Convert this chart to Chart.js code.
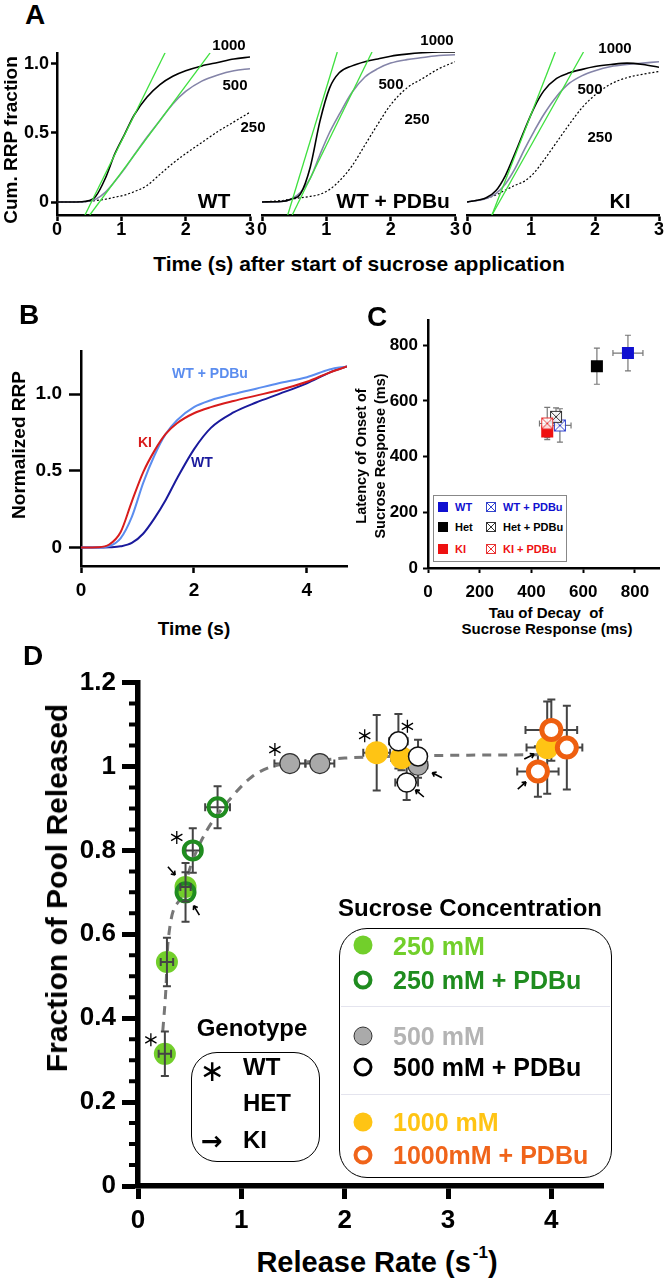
<!DOCTYPE html>
<html>
<head>
<meta charset="utf-8">
<script src="https://cdn.jsdelivr.net/npm/chart.js@4.4.1/dist/chart.umd.min.js"></script>
<style>
  body { margin: 0; background: #fff; }
  #page { position: relative; width: 668px; height: 1280px; overflow: hidden;
    font-family: 'Liberation Sans', Arial, Helvetica, sans-serif; font-weight: bold; color: #000; }
  canvas { position: absolute; }
  .t { position: absolute; white-space: nowrap; line-height: 1; transform: translate(-50%, -50%); }
  .rot { transform: translate(-50%, -50%) rotate(-90deg); text-align: center; }
  .lt { position: absolute; white-space: nowrap; line-height: 1; transform: translateY(-50%); }
  .box { position: absolute; box-sizing: border-box; }
  .dot { position: absolute; box-sizing: border-box; border-radius: 50%; transform: translate(-50%, -50%); }
  .sq { position: absolute; width: 10px; height: 10px; transform: translate(-50%, -50%); }
</style>
</head>
<body>
<div id="page">
  <canvas id="a1"></canvas>
  <canvas id="a2"></canvas>
  <canvas id="a3"></canvas>
  <canvas id="b"></canvas>
  <canvas id="c"></canvas>
  <canvas id="d"></canvas>

  <!-- panel A -->
  <div class="t" style="left:35px;top:15px;font-size:28px">A</div>
  <div class="t rot" style="left:10px;top:140px;font-size:19px">Cum. RRP fraction</div>
  <div class="t" style="left:359px;top:263px;font-size:21px">Time (s) after start of sucrose application</div>
  <div class="t" style="left:229px;top:44px;font-size:15px">1000</div>
  <div class="t" style="left:235px;top:84px;font-size:15px">500</div>
  <div class="t" style="left:253px;top:126px;font-size:15px">250</div>
  <div class="t" style="left:437px;top:39px;font-size:15px">1000</div>
  <div class="t" style="left:391px;top:83px;font-size:15px">500</div>
  <div class="t" style="left:417px;top:118px;font-size:15px">250</div>
  <div class="t" style="left:615px;top:47px;font-size:15px">1000</div>
  <div class="t" style="left:590px;top:88px;font-size:15px">500</div>
  <div class="t" style="left:600px;top:136px;font-size:15px">250</div>
  <div class="t" style="left:214px;top:200px;font-size:21px">WT</div>
  <div class="t" style="left:393px;top:200px;font-size:21px">WT + PDBu</div>
  <div class="t" style="left:620px;top:200px;font-size:21px">KI</div>

  <!-- panel B -->
  <div class="t" style="left:29px;top:315px;font-size:28px">B</div>
  <div class="t rot" style="left:18px;top:445px;font-size:19px">Normalized RRP</div>
  <div class="t" style="left:194px;top:628px;font-size:19px">Time (s)</div>
  <div class="t" style="left:210px;top:373px;font-size:14px;color:#5b8def">WT + PDBu</div>
  <div class="t" style="left:145px;top:442px;font-size:14px;color:#d81c1c">KI</div>
  <div class="t" style="left:202px;top:462px;font-size:14px;color:#1a1a9c">WT</div>

  <!-- panel C -->
  <div class="t" style="left:377px;top:317px;font-size:28px">C</div>
  <div class="t rot" style="left:371px;top:456px;font-size:14.5px;line-height:1.3">Latency of Onset of<br>Sucrose Response (ms)</div>
  <div class="t" style="left:546px;top:612px;font-size:15px">Tau of Decay&nbsp; of</div>
  <div class="t" style="left:547px;top:628px;font-size:15px">Sucrose Response (ms)</div>
  <div class="box" style="left:433px;top:495px;width:134px;height:67px;border:1.5px solid #888;background:#fff"></div>
  <div class="sq" style="left:443px;top:507px;background:#1010d0"></div>
  <div class="sq" style="left:443px;top:527px;background:#000"></div>
  <div class="sq" style="left:443px;top:549px;background:#ee1111"></div>
  <svg class="sq" style="left:491px;top:507px" viewBox="0 0 10 10"><rect x="0.5" y="0.5" width="9" height="9" fill="none" stroke="#3344cc"/><path d="M1 1L9 9M9 1L1 9" stroke="#3344cc"/></svg>
  <svg class="sq" style="left:491px;top:527px" viewBox="0 0 10 10"><rect x="0.5" y="0.5" width="9" height="9" fill="none" stroke="#333"/><path d="M1 1L9 9M9 1L1 9" stroke="#333"/></svg>
  <svg class="sq" style="left:491px;top:549px" viewBox="0 0 10 10"><rect x="0.5" y="0.5" width="9" height="9" fill="none" stroke="#e83333"/><path d="M1 1L9 9M9 1L1 9" stroke="#e83333"/></svg>
  <div class="lt" style="left:455px;top:507px;font-size:11px;color:#1010d0">WT</div>
  <div class="lt" style="left:455px;top:527px;font-size:11px">Het</div>
  <div class="lt" style="left:455px;top:549px;font-size:11px;color:#ee1111">KI</div>
  <div class="lt" style="left:503px;top:507px;font-size:11px;color:#1010d0">WT + PDBu</div>
  <div class="lt" style="left:503px;top:527px;font-size:11px">Het + PDBu</div>
  <div class="lt" style="left:503px;top:549px;font-size:11px;color:#ee1111">KI + PDBu</div>

  <!-- panel D -->
  <div class="t" style="left:33px;top:656px;font-size:28px">D</div>
  <div class="t rot" style="left:57px;top:888px;font-size:30px">Fraction of Pool Released</div>
  <div class="t" style="left:377px;top:1262px;font-size:29px">Release Rate (s<sup style="font-size:17px;vertical-align:top;position:relative;top:-4px;margin-left:2px">-1</sup>)</div>
  <div class="t" style="left:470px;top:908px;font-size:24px">Sucrose Concentration</div>
  <div class="box" style="left:339px;top:928px;width:273px;height:250px;border:1.5px solid #000;border-radius:28px"></div>
  <div class="box" style="left:341px;top:1006px;width:269px;height:1px;background:#e4e4ee"></div>
  <div class="box" style="left:341px;top:1094px;width:269px;height:1px;background:#e4e4ee"></div>
  <div class="dot" style="left:363px;top:945px;width:19px;height:19px;background:#72cf2b"></div>
  <div class="dot" style="left:363px;top:980px;width:19px;height:19px;border:4px solid #1f8c1f"></div>
  <div class="dot" style="left:363px;top:1036px;width:19px;height:19px;background:#aaa;border:1.5px solid #333"></div>
  <div class="dot" style="left:363px;top:1067px;width:19px;height:19px;border:3.5px solid #000"></div>
  <div class="dot" style="left:363px;top:1122px;width:19px;height:19px;background:#ffc414"></div>
  <div class="dot" style="left:363px;top:1155px;width:19px;height:19px;border:4px solid #f0641a"></div>
  <div class="lt" style="left:393px;top:946px;font-size:25px;color:#72cf2b">250 mM</div>
  <div class="lt" style="left:393px;top:980px;font-size:25px;color:#1f8c1f">250 mM + PDBu</div>
  <div class="lt" style="left:393px;top:1036px;font-size:25px;color:#b4b4b4">500 mM</div>
  <div class="lt" style="left:393px;top:1067px;font-size:25px">500 mM + PDBu</div>
  <div class="lt" style="left:393px;top:1122px;font-size:25px;color:#ffc414">1000 mM</div>
  <div class="lt" style="left:393px;top:1155px;font-size:25px;color:#f0641a">1000mM + PDBu</div>
  <div class="t" style="left:252px;top:1028px;font-size:24px">Genotype</div>
  <div class="box" style="left:191px;top:1052px;width:129px;height:110px;border:1.5px solid #000;border-radius:26px"></div>
  <div class="t" style="left:212px;top:1071px;font-size:30px;font-weight:normal;font-family:'DejaVu Sans',sans-serif">∗</div>
  <div class="lt" style="left:243px;top:1067px;font-size:24px">WT</div>
  <div class="lt" style="left:243px;top:1103px;font-size:24px">HET</div>
  <div class="t" style="left:212px;top:1141px;font-size:26px;font-family:'DejaVu Sans',sans-serif">→</div>
  <div class="lt" style="left:243px;top:1140px;font-size:24px">KI</div>
</div>

<script>
// ---- data: panel A (cumulative RRP fraction vs time, per sucrose conc.) ----
const aTime = [0, 0.3, 0.45, 0.6, 0.75, 0.9, 1.05, 1.2, 1.4, 1.6, 1.8, 2.0, 2.25, 2.5, 2.75, 3.0];
const wt1000 = [0, 0, 0.005, 0.04, 0.17, 0.35, 0.49, 0.63, 0.76, 0.85, 0.91, 0.95, 0.985, 1.01, 1.035, 1.05];
const wt500 = [0, 0, 0.003, 0.02, 0.07, 0.15, 0.24, 0.34, 0.47, 0.59, 0.71, 0.8, 0.875, 0.92, 0.95, 0.965];
const wt250 = [0, 0, 0.003, 0.01, 0.02, 0.035, 0.05, 0.075, 0.12, 0.2, 0.28, 0.35, 0.43, 0.51, 0.58, 0.65];
const pdbu1000 = [0, 0.003, 0.02, 0.06, 0.25, 0.58, 0.82, 0.93, 0.98, 1.01, 1.03, 1.05, 1.065, 1.075, 1.08, 1.08];
const pdbu500 = [0, 0.003, 0.02, 0.07, 0.17, 0.34, 0.5, 0.63, 0.79, 0.9, 0.96, 1.0, 1.025, 1.04, 1.055, 1.06];
const pdbu250 = [0, 0.01, 0.02, 0.03, 0.04, 0.055, 0.09, 0.15, 0.26, 0.41, 0.56, 0.7, 0.82, 0.89, 0.96, 1.01];
const ki1000 = [0, 0.03, 0.08, 0.19, 0.35, 0.52, 0.68, 0.8, 0.89, 0.93, 0.955, 0.975, 0.99, 1.0, 0.99, 0.97];
const ki500 = [0, 0.025, 0.06, 0.13, 0.24, 0.38, 0.51, 0.63, 0.76, 0.855, 0.91, 0.945, 0.975, 0.99, 1.0, 1.01];
const ki250 = [0, 0.025, 0.05, 0.085, 0.12, 0.15, 0.21, 0.3, 0.43, 0.56, 0.68, 0.77, 0.85, 0.895, 0.92, 0.94];
// linear fits (green): x where the fit crosses the bottom and top of the plot
const aFitY = [-0.094, 1.08];
const wtFitFastX = [0.435, 1.68], wtFitSlowX = [0.51, 2.38];
const pdbuFitFastX = [0.40, 1.17], pdbuFitSlowX = [0.47, 1.71];
const kiFitFastX = [0.39, 1.38], kiFitSlowX = [0.39, 1.82];
const aXTicks = [0, 1, 2, 3], aXLabels = ['0', '1', '2', '3'];
const aYTicks = [0, 0.5, 1], aYLabels = ['0', '0.5', '1.0'];

// ---- data: panel B (normalized RRP) ----
const bTime = [0, 0.3, 0.5, 0.7, 0.9, 1.1, 1.3, 1.5, 1.7, 2.0, 2.3, 2.7, 3.1, 3.5, 4.0, 4.4, 4.71];
const bWT = [0, 0, 0.002, 0.008, 0.03, 0.09, 0.19, 0.31, 0.45, 0.64, 0.78, 0.88, 0.945, 1.0, 1.07, 1.14, 1.18];
const bKI = [0, 0.002, 0.02, 0.1, 0.3, 0.49, 0.63, 0.74, 0.81, 0.875, 0.915, 0.955, 0.99, 1.025, 1.08, 1.14, 1.18];
const bPDBu = [0, 0.001, 0.01, 0.06, 0.2, 0.42, 0.6, 0.74, 0.83, 0.915, 0.96, 1.0, 1.035, 1.07, 1.11, 1.16, 1.18];
const bXTicks = [0, 2, 4], bXLabels = ['0', '2', '4'];
const bYTicks = [0, 0.5, 1], bYLabels = ['0', '0.5', '1.0'];

// ---- data: panel C (latency vs tau), order WT, Het, KI ----
const cTauCtl = [773, 653, 461], cLatCtl = [772, 725, 490];
const cTauCtlErr = [58, 15, 12], cLatCtlErr = [64, 65, 22];
const cTauPdbu = [510, 495, 461], cLatPdbu = [512, 543, 519];
const cTauPdbuErr = [43, 20, 30], cLatPdbuErr = [60, 32, 58];
const cTicks = [0, 200, 400, 600, 800], cLabels = ['0', '200', '400', '600', '800'];

// ---- data: panel D (fraction released vs release rate), genotype order WT, HET, KI ----
const dGeno = ['WT', 'HET', 'KI'];
const d250X = [0.26, 0.28, 0.46], d250Y = [0.315, 0.534, 0.713];
const d250XErr = [0.06, 0.06, 0.05], d250YErr = [0.053, 0.058, 0.035];
const dP250X = [0.53, 0.77, 0.46], dP250Y = [0.80, 0.903, 0.70];
const dP250XErr = [0.07, 0.12, 0.08], dP250YErr = [0.053, 0.05, 0.07];
const d500X = [1.47, 1.76, 2.71], d500Y = [1.007, 1.007, 1.003];
const d500XErr = [0.15, 0.14, 0.09], d500YErr = [0.01, 0.01, 0.03];
const dP500X = [2.52, 2.71, 2.6], dP500Y = [1.06, 1.024, 0.962];
const dP500XErr = [0.09, 0.07, 0.11], dP500YErr = [0.065, 0.04, 0.042];
const d1000X = [2.31, 2.55, 3.96], d1000Y = [1.033, 1.021, 1.045];
const d1000XErr = [0.13, 0.1, 0.2], d1000YErr = [0.09, 0.03, 0.11];
const dP1000X = [4.0, 4.15, 3.87], dP1000Y = [1.087, 1.045, 0.988];
const dP1000XErr = [0.25, 0.15, 0.2], dP1000YErr = [0.073, 0.1, 0.06];
const dFitX = [0.24, 0.27, 0.29, 0.42, 0.52, 0.66, 0.9, 1.1, 1.3, 1.6, 2.0, 2.6, 3.2, 3.9];
const dFitY = [0.37, 0.47, 0.58, 0.69, 0.77, 0.845, 0.925, 0.975, 1.0, 1.01, 1.02, 1.025, 1.027, 1.028];
const dXTicks = [0, 1, 2, 3, 4], dXLabels = ['0', '1', '2', '3', '4'];
const dYTicks = [0, 0.2, 0.4, 0.6, 0.8, 1, 1.2], dYLabels = ['0', '0.2', '0.4', '0.6', '0.8', '1', '1.2'];
const dYMinor = [0.05, 0.1, 0.15, 0.25, 0.3, 0.35, 0.45, 0.5, 0.55, 0.65, 0.7, 0.75,
  0.85, 0.9, 0.95, 1.05, 1.1, 1.15];

const FONT = "'Liberation Sans', Arial, Helvetica, sans-serif";

// place a canvas so that the chart area lands on `area` (page px)
function mk(id, area, m, yw, xh, cfg) {
  const c = document.getElementById(id);
  const w = area.r - area.l + m.l + m.r, h = area.b - area.t + m.t + m.b;
  c.width = w; c.height = h;
  c.style.left = (area.l - m.l) + 'px'; c.style.top = (area.t - m.t) + 'px';
  c.style.width = w + 'px'; c.style.height = h + 'px';
  cfg.options.layout = {padding: {left: m.l - yw, right: m.r, top: m.t, bottom: m.b - xh}};
  cfg.options.responsive = false;
  cfg.options.animation = false;
  cfg.options.plugins = Object.assign({legend: {display: false}, tooltip: {enabled: false}}, cfg.options.plugins || {});
  return new Chart(c, cfg);
}

function axis(o) {
  const horiz = o.pos === 'bottom';
  const s = {
    type: 'linear', position: o.pos, min: o.min, max: o.max, display: o.show !== false,
    afterBuildTicks: sc => { sc.ticks = o.ticks.map(v => ({value: v})); },
    border: {display: true, color: '#000', width: o.bw},
    grid: {display: true, drawOnChartArea: false, drawTicks: true, tickLength: o.tl,
      tickWidth: o.tw, tickColor: '#000', color: '#000'},
    ticks: {color: '#000', padding: o.pad, autoSkip: false, maxRotation: 0,
      font: {family: FONT, size: o.fs, weight: 'bold'}, callback: (v, i) => o.labels[i]},
  };
  if (o.show !== false) {
    s.afterFit = horiz ? (sc => { sc.height = o.size; }) : (sc => { sc.width = o.size; });
  }
  return s;
}

// ---- panel A ----
function aPanel(id, area, m, showY, c1000, c500, c250, fastX, slowX) {
  const pts = ys => aTime.map((t, i) => ({x: t, y: ys[i]}));
  const fit = xs => xs.map((x, i) => ({x, y: aFitY[i]}));
  const yw = showY ? m.l - 2 : 0;
  return mk(id, area, m, yw, m.b - 2, {
    type: 'line',
    data: {datasets: [
      {data: fit(fastX), borderColor: '#3ee03e', borderWidth: 1.3, cubicInterpolationMode: 'default', tension: 0},
      {data: fit(slowX), borderColor: '#3ee03e', borderWidth: 1.3, cubicInterpolationMode: 'default', tension: 0},
      {data: pts(c1000), borderColor: '#000', borderWidth: 1.6},
      {data: pts(c500), borderColor: '#8484a8', borderWidth: 1.6},
      {data: pts(c250), borderColor: '#000', borderWidth: 1.2, borderDash: [2, 2]},
    ]},
    options: {
      elements: {point: {radius: 0}, line: {cubicInterpolationMode: 'monotone'}},
      scales: {
        x: axis({pos: 'bottom', min: 0, max: 3, ticks: aXTicks, labels: aXLabels, bw: 2.5, tl: 6, tw: 2.5,
          pad: -2, fs: 18, size: m.b - 2}),
        y: axis({pos: 'left', min: -0.094, max: 1.08, ticks: aYTicks, labels: aYLabels, bw: 2.5, tl: 6, tw: 2.5,
          pad: 2, fs: 18, size: yw, show: showY}),
      },
    },
  });
}
aPanel('a1', {l: 57, t: 52, r: 250, b: 215}, {l: 57, t: 12, r: 8, b: 30}, true, wt1000, wt500, wt250, wtFitFastX, wtFitSlowX);
aPanel('a2', {l: 262, t: 52, r: 455, b: 215}, {l: 8, t: 12, r: 6, b: 30}, false, pdbu1000, pdbu500, pdbu250, pdbuFitFastX, pdbuFitSlowX);
aPanel('a3', {l: 467, t: 52, r: 659, b: 215}, {l: 8, t: 12, r: 8, b: 30}, false, ki1000, ki500, ki250, kiFitFastX, kiFitSlowX);

// ---- panel B ----
(function () {
  const pts = ys => bTime.map((t, i) => ({x: t, y: ys[i]}));
  const m = {l: 75, t: 12, r: 12, b: 40};
  mk('b', {l: 81, t: 345, r: 347, b: 566}, m, m.l - 2, m.b - 2, {
    type: 'line',
    data: {datasets: [
      {data: pts(bKI), borderColor: '#d81c1c', borderWidth: 2},
      {data: pts(bPDBu), borderColor: '#5b8def', borderWidth: 2},
      {data: pts(bWT), borderColor: '#1a1a9c', borderWidth: 2},
    ]},
    options: {
      elements: {point: {radius: 0}, line: {cubicInterpolationMode: 'monotone'}},
      scales: {
        x: axis({pos: 'bottom', min: 0, max: 4.71, ticks: bXTicks, labels: bXLabels, bw: 2.5, tl: 7, tw: 2.5,
          pad: 6, fs: 19, size: m.b - 2}),
        y: axis({pos: 'left', min: -0.12, max: 1.278, ticks: bYTicks, labels: bYLabels, bw: 2.5, tl: 12, tw: 2.5,
          pad: 7, fs: 19, size: m.l - 2}),
      },
    },
  });
})();

// ---- error bars / genotype marks ----
function drawErr(chart, onTop) {
  const ctx = chart.ctx, xs = chart.scales.x, ys = chart.scales.y;
  chart.data.datasets.forEach(ds => {
    if (!ds.xErr || Boolean(ds.barsOnTop) !== onTop) return;
    ctx.save();
    ctx.strokeStyle = ds.barColor; ctx.lineWidth = ds.barWidth;
    ds.data.forEach((p, i) => {
      const px = xs.getPixelForValue(p.x), py = ys.getPixelForValue(p.y), c = ds.cap;
      ctx.beginPath();
      if (ds.xErr[i]) {
        const a = xs.getPixelForValue(p.x - ds.xErr[i]), b = xs.getPixelForValue(p.x + ds.xErr[i]);
        ctx.moveTo(a, py); ctx.lineTo(b, py);
        ctx.moveTo(a, py - c); ctx.lineTo(a, py + c);
        ctx.moveTo(b, py - c); ctx.lineTo(b, py + c);
      }
      if (ds.yErr[i]) {
        const a = ys.getPixelForValue(p.y - ds.yErr[i]), b = ys.getPixelForValue(p.y + ds.yErr[i]);
        ctx.moveTo(px, a); ctx.lineTo(px, b);
        ctx.moveTo(px - c, a); ctx.lineTo(px + c, a);
        ctx.moveTo(px - c, b); ctx.lineTo(px + c, b);
      }
      ctx.stroke();
    });
    ctx.restore();
  });
}
const errBars = {
  id: 'errBars',
  beforeDatasetsDraw(chart) { drawErr(chart, false); },
  afterDatasetsDraw(chart) { drawErr(chart, true); },
};

function drawStar(ctx, x, y, r) {
  ctx.beginPath();
  [Math.PI / 2, Math.PI / 6, 5 * Math.PI / 6].forEach(a => {
    ctx.moveTo(x - r * Math.cos(a), y - r * Math.sin(a));
    ctx.lineTo(x + r * Math.cos(a), y + r * Math.sin(a));
  });
  ctx.stroke();
}
function drawArrow(ctx, x, y, ang) {
  const L = 5.5, H = 4.5, cx = Math.cos(ang), sy = Math.sin(ang);
  const hx = x + L * cx, hy = y + L * sy;
  ctx.beginPath();
  ctx.moveTo(x - L * cx, y - L * sy); ctx.lineTo(hx, hy);
  ctx.moveTo(hx, hy); ctx.lineTo(hx - H * Math.cos(ang - 0.6), hy - H * Math.sin(ang - 0.6));
  ctx.moveTo(hx, hy); ctx.lineTo(hx - H * Math.cos(ang + 0.6), hy - H * Math.sin(ang + 0.6));
  ctx.stroke();
}
const genoMarks = {
  id: 'genoMarks',
  afterDatasetsDraw(chart) {
    const ctx = chart.ctx, xs = chart.scales.x, ys = chart.scales.y;
    ctx.save();
    ctx.strokeStyle = '#000';
    chart.data.datasets.forEach(ds => {
      if (!ds.geno) return;
      ds.data.forEach((p, i) => {
        const off = ds.markOff[i];
        if (!off) return;
        const mx = xs.getPixelForValue(p.x) + off[0], my = ys.getPixelForValue(p.y) + off[1];
        if (ds.geno[i] === 'WT') { ctx.lineWidth = 1.3; drawStar(ctx, mx, my, 6.5); }
        if (ds.geno[i] === 'KI') { ctx.lineWidth = 1.6; drawArrow(ctx, mx, my, Math.atan2(-off[1], -off[0])); }
      });
    });
    ctx.restore();
  },
};

// ---- panel C ----
function crossSquare(color) {
  const c = document.createElement('canvas');
  c.width = 14; c.height = 14;
  const g = c.getContext('2d');
  g.fillStyle = 'rgba(255,255,255,0.85)'; g.fillRect(1, 1, 12, 12);
  g.strokeStyle = color; g.lineWidth = 1;
  g.strokeRect(1.5, 1.5, 11, 11);
  g.beginPath(); g.moveTo(2, 2); g.lineTo(12, 12); g.moveTo(12, 2); g.lineTo(2, 12); g.stroke();
  return c;
}
(function () {
  const pts = (xs, ys) => xs.map((x, i) => ({x, y: ys[i]}));
  const m = {l: 60, t: 12, r: 1, b: 35};
  mk('c', {l: 428, t: 317, r: 667, b: 568}, m, m.l - 2, m.b - 2, {
    type: 'scatter',
    data: {datasets: [
      {data: pts(cTauPdbu, cLatPdbu), xErr: cTauPdbuErr, yErr: cLatPdbuErr, barColor: '#777', barWidth: 1.2, cap: 3,
        pointStyle: [crossSquare('#3344cc'), crossSquare('#333'), crossSquare('#e83333')], pointRadius: 7},
      {data: pts(cTauCtl, cLatCtl), xErr: cTauCtlErr, yErr: cLatCtlErr, barColor: '#777', barWidth: 1.2, cap: 3,
        pointStyle: 'rect', pointRadius: 8.5, borderWidth: 0,
        backgroundColor: ['#1010d0', '#000', '#ee1111']},
    ]},
    options: {
      scales: {
        x: axis({pos: 'bottom', min: 0, max: 895, ticks: cTicks, labels: cLabels, bw: 2.5, tl: 5, tw: 2,
          pad: 9, fs: 17, size: m.b - 2}),
        y: axis({pos: 'left', min: 0, max: 890, ticks: cTicks, labels: cLabels, bw: 2.5, tl: 5, tw: 2,
          pad: 5, fs: 17, size: m.l - 2}),
      },
    },
    plugins: [errBars],
  });
})();

// ---- panel D ----
(function () {
  const pts = (xs, ys) => xs.map((x, i) => ({x, y: ys[i]}));
  const m = {l: 130, t: 15, r: 20, b: 50};
  const bar = {barColor: '#444', barWidth: 2, cap: 4, geno: dGeno};
  const minor = {
    id: 'minorTicks',
    afterDraw(chart) {
      const ctx = chart.ctx, y = chart.scales.y, x0 = chart.chartArea.left;
      ctx.save(); ctx.strokeStyle = '#000'; ctx.lineWidth = 4;
      ctx.beginPath();
      dYMinor.forEach(v => { const py = y.getPixelForValue(v); ctx.moveTo(x0 - 9, py); ctx.lineTo(x0, py); });
      ctx.stroke(); ctx.restore();
    },
  };
  mk('d', {l: 138, t: 676, r: 603, b: 1186}, m, m.l - 2, m.b - 2, {
    type: 'scatter',
    data: {datasets: [
      Object.assign({data: pts(dP1000X, dP1000Y), xErr: dP1000XErr, yErr: dP1000YErr, markOff: [null, null, [-16, 14]],
        pointRadius: 9.5, borderWidth: 5, borderColor: '#ee5f10', backgroundColor: '#fff', order: 1}, bar),
      Object.assign({data: pts(dP250X, dP250Y), xErr: dP250XErr, yErr: dP250YErr, markOff: [[-16, -13], null, [11, 18]],
        pointRadius: 9, borderWidth: 4, borderColor: '#1f8c1f', backgroundColor: 'rgba(0,0,0,0)', order: 2}, bar),
      Object.assign({data: pts(d250X, d250Y), xErr: d250XErr, yErr: d250YErr, markOff: [[-14, -14], null, [-14, -16]],
        barsOnTop: true, pointRadius: 11, borderWidth: 0, backgroundColor: '#72cf2b', order: 3}, bar),
      Object.assign({data: pts(dP500X, dP500Y), xErr: dP500XErr, yErr: dP500YErr, markOff: [[9, -15], null, [13, 11]],
        pointRadius: 9.5, borderWidth: 1.5, borderColor: '#111', backgroundColor: '#fff', order: 4}, bar),
      Object.assign({data: pts(d1000X, d1000Y), xErr: d1000XErr, yErr: d1000YErr, markOff: [[-12, -17], null, [-18, 9]],
        pointRadius: 11.5, borderWidth: 0, backgroundColor: '#ffc414', order: 5}, bar),
      Object.assign({data: pts(d500X, d500Y), xErr: d500XErr, yErr: d500YErr, markOff: [[-15, -14], null, [19, 10]],
        pointRadius: 10, borderWidth: 1.2, borderColor: '#333', backgroundColor: '#a9a9a9', order: 6}, bar),
      {type: 'line', data: pts(dFitX, dFitY), borderColor: '#777', borderWidth: 3, borderDash: [9, 7],
        pointRadius: 0, cubicInterpolationMode: 'monotone', order: 7},
    ]},
    options: {
      scales: {
        x: axis({pos: 'bottom', min: 0, max: 4.5, ticks: dXTicks, labels: dXLabels, bw: 5.5, tl: 13, tw: 5,
          pad: 6, fs: 26, size: m.b - 2}),
        y: axis({pos: 'left', min: 0, max: 1.2, ticks: dYTicks, labels: dYLabels, bw: 5.5, tl: 16, tw: 5,
          pad: 6, fs: 26, size: m.l - 2}),
      },
    },
    plugins: [errBars, genoMarks, minor],
  });
})();
</script>
</body>
</html>
